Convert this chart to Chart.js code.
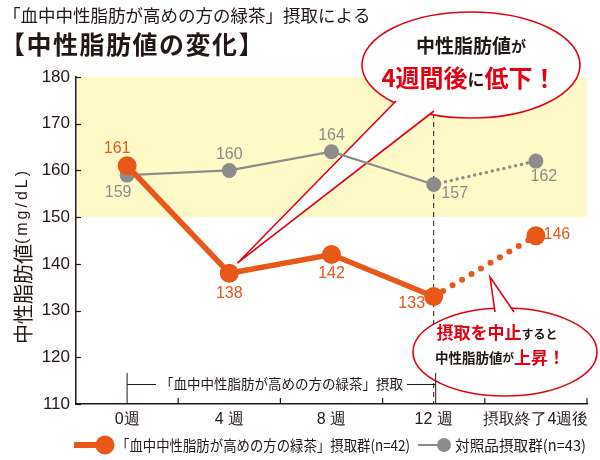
<!DOCTYPE html>
<html><head><meta charset="utf-8">
<script src="https://cdn.jsdelivr.net/npm/chart.js@4.4.1/dist/chart.umd.min.js"></script>
<style>html,body{margin:0;padding:0;background:#fff}canvas{display:block}</style>
</head><body>
<canvas id="c" width="600" height="460"></canvas>
<script>
const categories = ['0週', '4 週', '8 週', '12 週', '摂取終了4週後'];
const teaValues = [161, 138, 142, 133, 146];
const controlValues = [159, 160, 164, 157, 162];
const yTicks = [110, 120, 130, 140, 150, 160, 170, 180];
const bandRange = [150, 180];
const teaLabel = '「血中中性脂肪が高めの方の緑茶」摂取群(n=42)';
const controlLabel = '対照品摂取群(n=43)';
const titleLine1 = '「血中中性脂肪が高めの方の緑茶」摂取による';
const titleLine2 = '【中性脂肪値の変化】';
const yTitleMain = '中性脂肪値';
const yTitleUnit = '(mg/dL)';
const bracketText = '「血中中性脂肪が高めの方の緑茶」摂取';

const ORANGE = '#E85819', GRAY = '#8C8C8C', RED = '#E60012', INK = '#231815';
const JP = '"Noto Sans CJK JP", sans-serif';
const NUM = '"Liberation Sans Narrow", "Liberation Sans", sans-serif';

const labelOffsets = {
  tea: [[-10,-17],[0,20],[0,19],[-22,7],[21,-1]],
  control: [[-9,17],[0,-16],[0,-16],[21,9],[8,16]]
};

function runs(ctx, parts, cx, cy) {
  let w = 0;
  parts.forEach(p => { ctx.font = p.font; ctx.letterSpacing = p.ls || '0px'; p.w = ctx.measureText(p.t).width; w += p.w; });
  let x = cx - w / 2;
  ctx.textAlign = 'left'; ctx.textBaseline = 'middle';
  parts.forEach(p => { ctx.font = p.font; ctx.letterSpacing = p.ls || '0px'; ctx.fillStyle = p.c; ctx.fillText(p.t, x, cy + (p.dy || 0)); x += p.w; });
  ctx.letterSpacing = '0px';
}

function fitText(ctx, text, x, y, w) {
  const m = ctx.measureText(text).width;
  ctx.save(); ctx.translate(x, y); ctx.scale(Math.min(1, w / m), 1);
  ctx.textAlign = 'left'; ctx.fillText(text, 0, 0); ctx.restore();
}

function callout(ctx, cx, cy, rx, ry, tip, b1, b2) {
  ctx.save();
  ctx.beginPath(); ctx.ellipse(cx, cy, rx, ry, 0, 0, Math.PI * 2);
  ctx.fillStyle = '#fff'; ctx.fill();
  ctx.lineWidth = 1.6; ctx.strokeStyle = RED; ctx.stroke();
  ctx.beginPath(); ctx.moveTo(b1[0], b1[1]); ctx.lineTo(tip[0], tip[1]); ctx.lineTo(b2[0], b2[1]); ctx.closePath();
  ctx.fillStyle = '#fff'; ctx.fill();
  ctx.beginPath(); ctx.moveTo(b1[0], b1[1]); ctx.lineTo(tip[0], tip[1]); ctx.lineTo(b2[0], b2[1]);
  ctx.lineJoin = 'miter'; ctx.stroke();
  ctx.restore();
}

const decor = {
  id: 'decor',
  beforeDatasetsDraw(chart) {
    const { ctx, chartArea: a, scales: { x, y } } = chart;
    ctx.save();
    const yt = y.getPixelForValue(bandRange[1]), yb = y.getPixelForValue(bandRange[0]);
    ctx.fillStyle = '#FFF9C7';
    ctx.fillRect(a.left + 1, yt, a.right - a.left - 1, yb - yt);
    const x12 = x.getPixelForValue(3);
    ctx.setLineDash([5, 4]); ctx.strokeStyle = INK; ctx.lineWidth = 1;
    ctx.beginPath(); ctx.moveTo(x12, a.top); ctx.lineTo(x12, a.bottom); ctx.stroke();
    ctx.setLineDash([]);
    const p4x = x.getPixelForValue(1), p4y = y.getPixelForValue(teaValues[1]);
    callout(ctx, 471, 65, 109, 53, [p4x + 8, p4y - 10], [396, 101], [434, 111]);
    callout(ctx, 505, 352, 92, 44, [490, 277], [495, 312], [514, 312]);
    ctx.restore();
  },
  afterDatasetsDraw(chart) {
    const { ctx, scales: { x, y } } = chart;
    ctx.save();
    ctx.textAlign = 'center'; ctx.textBaseline = 'middle';
    ctx.font = '16px ' + NUM;
    [['control', controlValues, GRAY], ['tea', teaValues, ORANGE]].forEach(([k, vals, col]) => {
      ctx.fillStyle = col;
      vals.forEach((v, i) => {
        const o = labelOffsets[k][i];
        ctx.fillText(String(v), x.getPixelForValue(i) + o[0], y.getPixelForValue(v) + o[1]);
      });
    });
    ctx.restore();
  },
  afterDraw(chart) {
    const { ctx, chartArea: a, scales: { x, y } } = chart;
    ctx.save();
    ctx.strokeStyle = INK; ctx.lineWidth = 1.2;
    yTicks.forEach(v => { const py = Math.round(y.getPixelForValue(v)) + 0.5; ctx.beginPath(); ctx.moveTo(a.left, py); ctx.lineTo(a.left + 5, py); ctx.stroke(); });
    for (let i = 0; i < categories.length; i++) {
      const px = i < categories.length - 1 ? (x.getPixelForValue(i) + x.getPixelForValue(i + 1)) / 2 : a.right;
      ctx.beginPath(); ctx.moveTo(px, a.bottom); ctx.lineTo(px, a.bottom - 6); ctx.stroke();
    }
    const bx0 = x.getPixelForValue(0), bx1 = x.getPixelForValue(3) + 2, by = 384;
    ctx.lineWidth = 1;
    ctx.beginPath(); ctx.moveTo(bx0, 373); ctx.lineTo(bx0, a.bottom); ctx.moveTo(bx1, 373); ctx.lineTo(bx1, a.bottom); ctx.stroke();
    ctx.font = '13.5px ' + JP; ctx.textAlign = 'center'; ctx.textBaseline = 'middle'; ctx.fillStyle = INK;
    const tw = ctx.measureText(bracketText).width, mid = (bx0 + bx1) / 2;
    ctx.fillText(bracketText, mid, by);
    ctx.beginPath(); ctx.moveTo(bx0, by + 0.5); ctx.lineTo(mid - tw / 2 - 4, by + 0.5); ctx.moveTo(mid + tw / 2 + 4, by + 0.5); ctx.lineTo(bx1, by + 0.5); ctx.stroke();
    ctx.textAlign = 'left'; ctx.textBaseline = 'middle'; ctx.fillStyle = INK;
    ctx.font = '17.5px ' + JP; ctx.fillText(titleLine1, 3, 15);
    ctx.font = 'bold 25px ' + JP; ctx.letterSpacing = '1.5px'; ctx.fillText(titleLine2, 0, 44); ctx.letterSpacing = '0px';
    ctx.save(); ctx.translate(23, 256); ctx.rotate(-Math.PI / 2);
    runs(ctx, [{ t: yTitleMain, font: '20px ' + JP, c: INK }, { t: yTitleUnit, font: '16px ' + NUM, c: INK, ls: '3px' }], 0, 0);
    ctx.restore();
    runs(ctx, [{ t: '中性脂肪値', font: 'bold 19px ' + JP, c: INK }, { t: 'が', font: 'bold 15px ' + JP, c: INK }], 471, 46);
    runs(ctx, [{ t: '4週間後', font: 'bold 24px ' + JP, c: RED }, { t: 'に', font: 'bold 17px ' + JP, c: INK, dy: 2 }, { t: '低下！', font: 'bold 24px ' + JP, c: RED }], 469, 78);
    runs(ctx, [{ t: '摂取を中止', font: 'bold 17px ' + JP, c: RED }, { t: 'すると', font: 'bold 12px ' + JP, c: INK, dy: 1 }], 497, 333);
    runs(ctx, [{ t: '中性脂肪値', font: 'bold 13.5px ' + JP, c: INK }, { t: 'が', font: 'bold 11.5px ' + JP, c: INK }, { t: '上昇！', font: 'bold 17px ' + JP, c: RED }], 500, 358);
    const ly = 445;
    ctx.lineCap = 'butt';
    ctx.strokeStyle = ORANGE; ctx.lineWidth = 6; ctx.beginPath(); ctx.moveTo(74, ly); ctx.lineTo(100, ly); ctx.stroke();
    ctx.fillStyle = ORANGE; ctx.beginPath(); ctx.arc(105, ly, 9.5, 0, Math.PI * 2); ctx.fill();
    ctx.font = '15px ' + JP; ctx.fillStyle = INK; ctx.textBaseline = 'middle';
    fitText(ctx, teaLabel, 116, ly, 294);
    ctx.strokeStyle = GRAY; ctx.lineWidth = 2; ctx.beginPath(); ctx.moveTo(418, ly); ctx.lineTo(440, ly); ctx.stroke();
    ctx.fillStyle = GRAY; ctx.beginPath(); ctx.arc(444, ly, 7, 0, Math.PI * 2); ctx.fill();
    ctx.fillStyle = INK;
    fitText(ctx, controlLabel, 455, ly, 131);
    ctx.restore();
  }
};

new Chart(document.getElementById('c'), {
  type: 'line',
  data: {
    labels: categories,
    datasets: [
      {
        label: teaLabel, data: teaValues, order: 0,
        borderColor: ORANGE, backgroundColor: ORANGE, borderWidth: 5.5,
        pointRadius: 9.5, pointBackgroundColor: ORANGE, pointBorderWidth: 0,
        borderCapStyle: 'round', tension: 0,
        segment: { borderDash: c => c.p1DataIndex === 4 ? [0, 11] : undefined, borderWidth: c => c.p1DataIndex === 4 ? 6 : undefined }
      },
      {
        label: controlLabel, data: controlValues, order: 1,
        borderColor: GRAY, backgroundColor: GRAY, borderWidth: 2.2,
        pointRadius: 7.5, pointBackgroundColor: GRAY, pointBorderWidth: 0,
        borderCapStyle: 'round', tension: 0,
        segment: { borderDash: c => c.p1DataIndex === 4 ? [0, 6] : undefined, borderWidth: c => c.p1DataIndex === 4 ? 3.5 : undefined }
      }
    ]
  },
  options: {
    responsive: false, animation: false, events: [],
    layout: { padding: { top: 77, right: 13, left: 0, bottom: 0 } },
    plugins: { legend: { display: false }, tooltip: { enabled: false } },
    scales: {
      x: {
        offset: true,
        grid: { display: false, drawTicks: false },
        border: { display: true, color: INK, width: 1.5 },
        ticks: { color: INK, font: { size: 16, family: NUM }, padding: 6, maxRotation: 0, autoSkip: false,
          callback: (v, i) => categories[i] },
        afterFit: s => { s.height = 56; }
      },
      y: {
        min: yTicks[0], max: yTicks[yTicks.length - 1],
        grid: { display: false, drawTicks: false },
        border: { display: true, color: INK, width: 1.5 },
        afterBuildTicks: s => { s.ticks = yTicks.map(v => ({ value: v })); },
        ticks: { color: INK, font: { size: 17, family: NUM }, padding: 6 },
        afterFit: s => { s.width = 76; }
      }
    }
  },
  plugins: [decor]
});
</script>
</body></html>
